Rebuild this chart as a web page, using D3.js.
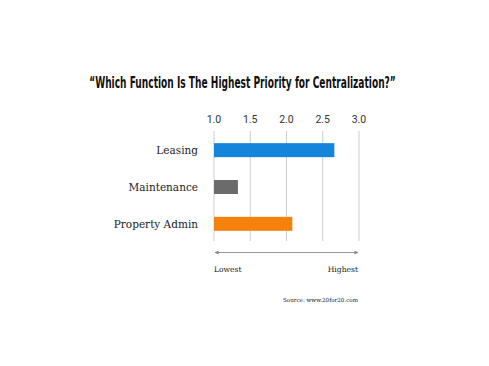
<!DOCTYPE html>
<html>
<head>
<meta charset="utf-8">
<script src="https://cdn.jsdelivr.net/npm/d3@7"></script>
<style>
  body { margin: 0; background: #fff; }
  svg { display: block; }
</style>
</head>
<body>
<script>
const categories = ['Leasing', 'Maintenance', 'Property Admin']
const values = [2.66, 1.33, 2.08]
const colors = ['#1485db', '#6b6b6b', '#f5820d']
const ticks = [1.0, 1.5, 2.0, 2.5, 3.0]

const width = 489, height = 366

const svg = d3.select('body').append('svg').attr('width', width).attr('height', height)

const x = d3.scaleLinear().domain([1, 3]).range([214, 359])
const y = d3.scaleBand().domain(categories).range([131, 243]).paddingInner(0.62).paddingOuter(0.33)

// title, squeezed horizontally to match the condensed face of the original
const titleG = svg.append('g')
const title = titleG.append('text')
    .attr('text-anchor', 'middle')
    .attr('font-family', '"Liberation Sans Narrow", "DejaVu Sans Condensed", sans-serif')
    .attr('font-weight', 'bold')
    .attr('font-size', 15.5)
    .attr('fill', '#111')
    .text('\u201CWhich Function Is The Highest Priority for Centralization?\u201D')
const natural = title.node().getComputedTextLength()
const sx = Math.min(1, 307 / natural)
titleG.attr('transform', `translate(242.5,88) scale(${sx},1)`)

// grid
svg.append('g').selectAll('line').data(ticks).join('line')
    .attr('x1', d => x(d)).attr('x2', d => x(d))
    .attr('y1', 131).attr('y2', 241)
    .attr('stroke', '#cccccc').attr('stroke-width', 1)

// tick labels
svg.append('g').selectAll('text').data(ticks).join('text')
    .attr('x', d => x(d)).attr('y', 123)
    .attr('text-anchor', 'middle')
    .attr('font-family', 'Roboto, sans-serif')
    .attr('font-size', 10.5)
    .attr('fill', '#333')
    .text(d => d3.format('.1f')(d))

// bars
svg.append('g').selectAll('rect').data(values).join('rect')
    .attr('x', x(1))
    .attr('y', (d, i) => y(categories[i]))
    .attr('width', d => x(d) - x(1))
    .attr('height', y.bandwidth())
    .attr('fill', (d, i) => colors[i])

// category labels
svg.append('g').selectAll('text').data(categories).join('text')
    .attr('x', 198)
    .attr('y', d => y(d) + y.bandwidth() / 2)
    .attr('dy', '0.35em')
    .attr('text-anchor', 'end')
    .attr('font-family', '"DejaVu Serif", serif')
    .attr('font-size', 10.5)
    .attr('fill', '#222')
    .text(d => d)

// arrow
const defs = svg.append('defs')
defs.append('marker').attr('id', 'ah').attr('viewBox', '0 0 10 10')
    .attr('refX', 9).attr('refY', 5).attr('markerWidth', 4).attr('markerHeight', 4)
    .attr('orient', 'auto-start-reverse')
    .append('path').attr('d', 'M0,0L10,5L0,10z').attr('fill', '#888')
svg.append('line')
    .attr('x1', x(1) + 1).attr('x2', x(3) - 1)
    .attr('y1', 252.5).attr('y2', 252.5)
    .attr('stroke', '#999').attr('stroke-width', 1)
    .attr('marker-start', 'url(#ah)').attr('marker-end', 'url(#ah)')

function small(sel, size) {
    sel.attr('font-family', '"DejaVu Serif", serif').attr('font-size', size).attr('fill', '#222')
}
svg.append('text').attr('x', x(1)).attr('y', 272).text('Lowest').call(small, 7.6)
svg.append('text').attr('x', x(3) - 1).attr('y', 272).attr('text-anchor', 'end').text('Highest').call(small, 7.6)
svg.append('text').attr('x', x(3) - 1).attr('y', 301.5).attr('text-anchor', 'end').text('Source: www.20for20.com').call(small, 5.6)
</script>
</body>
</html>
